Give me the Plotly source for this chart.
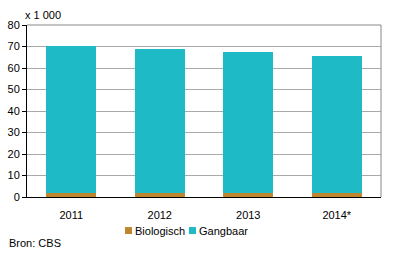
import plotly.graph_objects as go

years = ["2011", "2012", "2013", "2014*"]
biologisch = [1.7, 1.7, 1.7, 1.7]
gangbaar = [68.5, 67.1, 65.7, 63.9]
y_ticks = [0, 10, 20, 30, 40, 50, 60, 70, 80]
series_names = ["Biologisch", "Gangbaar"]
series_colors = ["#C0862F", "#1EBBC6"]

font = dict(family="Liberation Sans, Arial, sans-serif", size=11, color="#000000")

fig = go.Figure()
for name, vals, col in zip(series_names, [biologisch, gangbaar], series_colors):
    fig.add_trace(go.Bar(x=years, y=vals, name=name, marker=dict(color=col, line=dict(width=0))))

# manual legend (squares + labels) below the plot
legend_sq_x = [0.2768, 0.4576]
shapes = [
    dict(type="line", xref="paper", yref="paper", x0=1, x1=1, y0=0, y1=1,
         line=dict(color="#888888", width=1)),
    dict(type="line", xref="paper", yref="paper", x0=0, x1=1, y0=1, y1=1,
         line=dict(color="#888888", width=1)),
]
annotations = [
    dict(text="x 1 000", xref="paper", yref="paper", x=-0.0113, y=1.058, xanchor="left",
         yanchor="middle", showarrow=False, font=font),
    dict(text="Bron: CBS", xref="paper", yref="paper", x=-0.0565, y=-0.267, xanchor="left",
         yanchor="middle", showarrow=False, font=font),
]
sq_w = 7 / 354
sq_h = 7 / 172
ly = -0.195
for x0, name, col in zip(legend_sq_x, series_names, series_colors):
    shapes.append(dict(type="rect", xref="paper", yref="paper", x0=x0, x1=x0 + sq_w,
                       y0=ly - sq_h / 2, y1=ly + sq_h / 2, fillcolor=col, line=dict(width=0)))
    annotations.append(dict(text=name, xref="paper", yref="paper", x=x0 + sq_w + 0.004, y=ly,
                            xanchor="left", yanchor="middle", showarrow=False, font=font))

fig.update_layout(
    barmode="stack",
    bargap=0.44,
    width=396, height=259,
    margin=dict(l=27, r=15, t=25, b=62, autoexpand=False),
    paper_bgcolor="white", plot_bgcolor="white",
    font=font,
    showlegend=False,
    xaxis=dict(showline=True, linecolor="#000000", linewidth=1, ticks="", tickfont=font,
               ticklabelstandoff=8, fixedrange=True),
    yaxis=dict(range=[0, 80], tickvals=y_ticks, showgrid=True, gridcolor="#AAAAAA", gridwidth=1,
               showline=True, linecolor="#000000", linewidth=1, ticks="outside", ticklen=4,
               tickcolor="#000000", tickfont=font, zeroline=False, fixedrange=True),
    shapes=shapes,
    annotations=annotations,
)

fig.write_html("out.html")
